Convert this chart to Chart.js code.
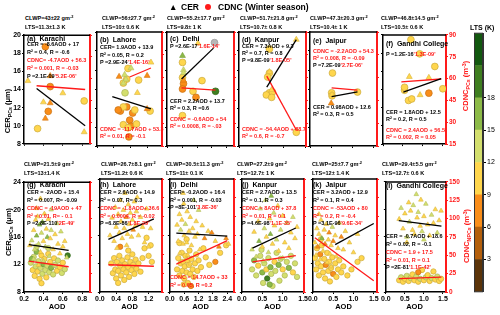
<!DOCTYPE html>
<html><head><meta charset="utf-8">
<script src="https://cdn.jsdelivr.net/npm/chart.js@4.4.1/dist/chart.umd.min.js"></script>
<style>
html,body{margin:0;padding:0;background:#fff;}
body{width:500px;height:315px;position:relative;overflow:hidden;font-family:"Liberation Sans",Arial,sans-serif;}
canvas{position:absolute;}
.t{position:absolute;white-space:nowrap;line-height:1;font-weight:bold;color:#000;}
.r{color:#ff1a1a;}
sup{font-size:70%;vertical-align:0;position:relative;top:-0.45em;}
sub{font-size:70%;vertical-align:0;position:relative;top:0.3em;}
</style></head><body>
<script>
// ---------------- DATA ----------------
const sites = ['Karachi','Lahore','Delhi','Kanpur','Jaipur','Gandhi College'];
const letters = ['a','b','c','d','e','f','g','h','i','j','k','l'];
const clwpPC  = ['43±22','56±27.7','55.2±17.7','51.7±21.8','47.3±20.3','46.8±14.5'];
const ltsPC   = ['11.3±1.3','10± 0.6','9.8± 1','10.7± 0.8','10.4± 1','10.5± 0.6'];
const clwpNPC = ['21.5±9','26.7±8.1','30.5±11.3','27.2±9','25±7.7','29.4±5.5'];
const ltsNPC  = ['13±1.4','11.2± 0.6','11± 0.1','12.7± 1','12± 1.4','12.7± 0.6'];

// AOD axis per column: range and tick labels
const aodRange = [[0.2,0.88],[0,1.53],[0,2.68],[0,1.52],[0,1.58],[0,1.58]];
const aodTicks = [[0.2,0.4,0.6,0.8],[0,0.4,0.8,1.2],[0,0.6,1.2,1.8,2.4],[0,0.5,1.0,1.5],[0,0.5,1.0,1.5],[0,0.5,1.0,1.5]];
const cerTicksPC = [8,10,12,14,16,18,20];
const cerTicksNPC = [8,12,16,20,24];
const cdncTicksPC = [15,30,45,60,75,90];
const cdncTicksNPC = [0,25,50,75,100,125,150];
const ltsBandLow  = [0,3,6,9,12,15,18,21];
const ltsBandHigh = [3,6,9,12,15,18,21,24];
const ltsTicks = [3,6,9,12,15,18];

// points: [AOD, value, LTS]
const cerPC_Karachi = [[0.24,14.95,10.5],[0.47,15.5,7.5],[0.60,13.6,10.5],[0.40,12.6,10.5],[0.47,12.5,7.5],[0.42,10.8,7.5],[0.82,9.3,10.5]];
const cdncPC_Karachi = [[0.47,54.5,7.5],[0.45,37.4,7.5],[0.34,25.5,10.5],[0.82,44.6,10.5],[0.42,82,7.5]];
const cerPC_Lahore = [[1.27,16.8,10.5],[0.52,15.3,7.5],[1.18,15.4,7.5],[0.65,15.5,13.5],[0.68,15.0,13.5],[0.62,14.6,13.5],[0.95,13.6,10.5],[1.18,11.9,7.5],[0.80,16.2,13.5]];
const cdncPC_Lahore = [[0.73,66,10.5],[0.70,59,10.5],[0.62,56.4,10.5],[0.98,58.4,10.5],[0.66,50,13.5],[0.55,38,7.5],[0.70,40.7,7.5],[0.84,36.7,7.5],[0.62,40.7,10.5],[0.89,38.7,10.5],[0.50,38.7,7.5],[0.77,32,7.5],[0.80,28,7.5],[0.62,29,10.5],[0.73,27,10.5],[0.93,29.5,10.5],[0.75,21,7.5],[1.25,38,10.5]];
const cerPC_Delhi = [[0.62,17.5,16.5],[0.66,16.0,13.5],[0.66,15.7,13.5],[0.66,14.9,7.5],[1.24,18.8,10.5]];
const cdncPC_Delhi = [[0.62,70,10.5],[0.62,60,10.5],[0.66,56,7.5],[1.40,58,10.5],[0.62,52.5,7.5],[1.04,51,10.5],[1.94,51,19.5],[1.16,47,7.5],[0.62,35,10.5],[1.90,83,27]];
const cerPC_Kanpur = [[1.30,19.2,10.5],[0.69,15.8,10.5],[0.74,13.9,10.5]];
const cdncPC_Kanpur = [[0.69,78.8,10.5],[0.69,63,10.5],[0.65,60.4,10.5],[0.69,50,10.5],[0.62,48.6,10.5],[0.76,50.5,10.5],[0.74,47,10.5],[1.30,24,10.5]];
const cerPC_Jaipur = [[0.50,12.5,7.5],[0.52,13.4,10.5]];
const cdncPC_Jaipur = [[0.53,63,10.5],[0.51,50,10.5],[0.52,48,10.5],[1.12,50.5,10.5]];
const cerPC_Gandhi = [[0.66,15.4,10.5],[1.15,15.3,10.5],[0.93,13.4,10.5]];
const cdncPC_Gandhi = [[0.70,86.7,10.5],[0.92,77,10.5],[1.30,68.3,10.5],[1.50,53,10.5],[0.54,52,10.5],[0.64,45,10.5],[0.72,46,10.5],[1.15,50,7.5],[0.54,54,10.5]];

const cerNPC_Karachi = [[0.28,15.5,13.5],[0.30,17.0,10.5],[0.31,14.2,13.5],[0.32,18.5,10.5],[0.33,16.2,16.5],[0.34,19.0,10.5],[0.35,15.0,13.5],[0.36,17.8,16.5],[0.37,21.6,10.5],[0.37,13.8,10.5],[0.38,16.6,13.5],[0.39,18.2,16.5],[0.40,15.4,10.5],[0.41,19.4,10.5],[0.42,14.6,13.5],[0.43,17.2,10.5],[0.44,16.0,16.5],[0.45,18.6,10.5],[0.46,13.2,13.5],[0.47,15.8,10.5],[0.48,17.0,13.5],[0.50,14.2,10.5],[0.52,16.4,10.5],[0.54,18.0,13.5],[0.55,15.0,10.5],[0.57,13.6,10.5],[0.58,16.8,13.5],[0.60,14.6,10.5],[0.62,15.4,10.5],[0.64,13.0,13.5],[0.30,12.8,13.5],[0.35,11.9,10.5],[0.40,12.5,13.5],[0.33,20.2,10.5],[0.48,20.0,13.5],[0.26,14.8,10.5]];
const cdncNPC_Karachi = [[0.27,40,13.5],[0.29,30,10.5],[0.30,48,13.5],[0.31,22,10.5],[0.32,35,13.5],[0.33,55,16.5],[0.34,28,10.5],[0.35,42,13.5],[0.36,18,10.5],[0.37,33,13.5],[0.38,50,10.5],[0.39,25,13.5],[0.40,38,16.5],[0.41,45,10.5],[0.42,30,13.5],[0.43,20,10.5],[0.44,36,13.5],[0.45,52,10.5],[0.46,27,13.5],[0.47,41,10.5],[0.48,33,16.5],[0.50,24,13.5],[0.51,46,10.5],[0.52,37,13.5],[0.54,29,10.5],[0.55,43,13.5],[0.57,34,10.5],[0.59,26,13.5],[0.60,40,10.5],[0.62,31,13.5],[0.65,50,19.5],[0.33,62,13.5],[0.38,12,10.5],[0.45,60,13.5],[0.28,45,16.5]];
const cerNPC_Lahore = [[0.25,16.0,10.5],[0.30,18.5,10.5],[0.35,15.2,10.5],[0.38,20.0,10.5],[0.40,17.2,10.5],[0.45,19.0,10.5],[0.48,16.4,10.5],[0.50,21.0,10.5],[0.52,18.0,10.5],[0.55,15.6,10.5],[0.58,19.6,10.5],[0.60,17.0,10.5],[0.62,22.0,10.5],[0.65,18.6,7.5],[0.68,16.2,10.5],[0.70,20.4,10.5],[0.72,17.6,10.5],[0.75,19.2,10.5],[0.78,15.8,10.5],[0.80,18.2,10.5],[0.82,16.8,7.5],[0.85,20.8,10.5],[0.88,17.4,10.5],[0.90,19.4,10.5],[0.95,16.0,10.5],[1.00,18.6,10.5],[1.05,17.2,10.5],[1.10,15.0,10.5],[1.15,19.8,10.5],[1.20,14.4,10.5],[1.25,17.0,10.5],[0.42,14.2,10.5],[0.66,14.6,10.5],[0.92,21.4,10.5]];
const cdncNPC_Lahore = [[0.28,38,10.5],[0.32,25,10.5],[0.35,45,10.5],[0.38,30,10.5],[0.40,18,10.5],[0.42,40,10.5],[0.45,28,10.5],[0.48,48,10.5],[0.50,35,10.5],[0.52,22,10.5],[0.55,42,10.5],[0.58,30,10.5],[0.60,16,10.5],[0.62,37,10.5],[0.65,26,10.5],[0.68,46,10.5],[0.70,33,10.5],[0.72,20,10.5],[0.75,40,10.5],[0.78,29,10.5],[0.80,50,10.5],[0.82,36,10.5],[0.85,24,10.5],[0.88,43,10.5],[0.90,31,10.5],[0.95,38,10.5],[1.00,27,10.5],[1.05,45,10.5],[1.10,58,10.5],[1.15,72,10.5],[1.20,48,10.5],[1.25,62,10.5],[1.28,40,10.5],[0.70,55,10.5],[0.50,60,7.5],[0.45,12,10.5]];
const cerNPC_Delhi = [[0.30,17.5,10.5],[0.35,15.2,10.5],[0.40,19.0,10.5],[0.42,13.5,10.5],[0.45,16.8,13.5],[0.50,18.2,10.5],[0.55,14.8,10.5],[0.58,20.5,10.5],[0.60,16.0,10.5],[0.65,17.6,13.5],[0.70,15.0,10.5],[0.72,19.4,10.5],[0.75,13.2,10.5],[0.80,16.6,10.5],[0.85,18.6,10.5],[0.90,14.6,10.5],[0.95,17.0,10.5],[1.00,21.0,13.5],[1.05,15.8,10.5],[1.10,18.0,10.5],[1.15,16.2,10.5],[1.25,14.0,10.5],[1.35,17.4,10.5],[1.45,15.6,7.5],[1.60,16.6,10.5],[1.75,16.4,7.5],[1.90,15.2,10.5],[2.05,14.4,7.5],[2.35,15.6,7.5],[2.45,14.8,10.5],[0.55,22.0,10.5],[0.85,12.0,10.5],[1.20,19.6,13.5]];
const cdncNPC_Delhi = [[0.30,30,10.5],[0.35,45,10.5],[0.40,22,10.5],[0.45,38,10.5],[0.50,52,10.5],[0.52,28,10.5],[0.55,40,10.5],[0.60,18,10.5],[0.62,34,10.5],[0.65,48,10.5],[0.70,26,10.5],[0.72,42,10.5],[0.75,12,10.5],[0.80,36,10.5],[0.82,55,10.5],[0.85,24,10.5],[0.88,8,7.5],[0.90,44,10.5],[0.95,30,10.5],[1.00,20,10.5],[1.05,38,10.5],[1.10,50,10.5],[1.15,28,10.5],[1.20,42,10.5],[1.30,33,10.5],[1.40,58,10.5],[1.50,46,10.5],[1.65,36,10.5],[1.90,40,7.5],[2.10,52,10.5],[2.35,62,10.5],[0.40,65,10.5],[0.70,70,10.5],[0.58,10,10.5]];
const cerNPC_Kanpur = [[0.25,14.0,13.5],[0.30,16.5,10.5],[0.35,13.0,13.5],[0.40,18.0,10.5],[0.42,15.2,16.5],[0.45,19.8,13.5],[0.50,14.4,10.5],[0.55,17.0,13.5],[0.58,21.0,13.5],[0.60,15.8,10.5],[0.65,13.6,13.5],[0.68,18.4,10.5],[0.70,16.2,16.5],[0.75,14.8,10.5],[0.78,19.2,13.5],[0.80,17.4,10.5],[0.85,15.4,13.5],[0.88,20.2,10.5],[0.90,13.8,10.5],[0.95,16.8,13.5],[1.00,18.8,10.5],[1.05,15.0,10.5],[1.10,17.8,13.5],[1.15,14.2,10.5],[1.20,16.4,10.5],[1.25,18.6,13.5],[1.30,15.6,10.5],[1.35,17.2,10.5],[0.52,12.4,13.5],[0.72,21.6,16.5],[1.00,12.8,13.5]];
const cdncNPC_Kanpur = [[0.25,30,13.5],[0.30,42,16.5],[0.35,22,13.5],[0.40,35,10.5],[0.45,48,13.5],[0.50,26,16.5],[0.52,12,13.5],[0.55,38,13.5],[0.60,30,10.5],[0.62,18,19.5],[0.65,45,13.5],[0.70,33,16.5],[0.72,24,13.5],[0.75,8,13.5],[0.80,40,10.5],[0.82,28,13.5],[0.85,52,13.5],[0.90,36,16.5],[0.92,15,13.5],[0.95,44,13.5],[1.00,30,10.5],[1.05,22,13.5],[1.10,40,13.5],[1.15,32,16.5],[1.20,48,13.5],[1.25,26,10.5],[1.30,38,13.5],[1.35,20,13.5],[0.48,56,13.5],[0.68,10,16.5]];
const cerNPC_Jaipur = [[0.05,15.0,10.5],[0.08,13.2,10.5],[0.10,17.0,10.5],[0.12,14.4,7.5],[0.15,16.2,10.5],[0.18,12.6,10.5],[0.20,18.2,10.5],[0.22,15.6,16.5],[0.25,13.8,10.5],[0.28,16.8,10.5],[0.30,14.8,7.5],[0.33,17.6,10.5],[0.35,12.2,10.5],[0.38,15.4,10.5],[0.40,16.4,7.5],[0.42,13.4,10.5],[0.45,14.6,10.5],[0.48,17.2,13.5],[0.50,15.2,7.5],[0.55,16.0,10.5],[0.58,13.0,10.5],[0.62,14.2,10.5],[0.65,17.8,10.5],[0.70,15.8,7.5],[0.75,14.0,10.5],[0.80,16.6,10.5],[0.90,15.0,10.5],[1.00,13.6,10.5],[1.10,16.2,10.5],[0.15,19.0,10.5],[0.45,11.6,10.5]];
const cdncNPC_Jaipur = [[0.05,45,10.5],[0.08,30,10.5],[0.10,58,10.5],[0.12,38,10.5],[0.15,22,10.5],[0.18,50,7.5],[0.20,34,10.5],[0.22,62,10.5],[0.25,26,10.5],[0.28,44,10.5],[0.30,18,10.5],[0.32,36,7.5],[0.35,52,10.5],[0.38,28,10.5],[0.40,40,10.5],[0.42,14,10.5],[0.45,32,10.5],[0.48,46,10.5],[0.50,24,7.5],[0.55,38,10.5],[0.58,20,10.5],[0.62,30,10.5],[0.65,42,10.5],[0.70,26,10.5],[0.75,34,10.5],[0.85,22,10.5],[0.95,30,10.5],[1.10,40,10.5],[1.20,45,10.5],[0.20,70,10.5]];
const cerNPC_Gandhi = [[0.35,18.6,10.5],[0.40,20.2,13.5],[0.45,17.2,10.5],[0.50,19.4,10.5],[0.55,16.0,13.5],[0.60,21.0,10.5],[0.62,18.2,13.5],[0.65,19.8,10.5],[0.70,17.0,10.5],[0.72,20.6,13.5],[0.75,16.4,10.5],[0.80,22.2,13.5],[0.82,18.8,10.5],[0.85,19.6,13.5],[0.90,17.6,10.5],[0.92,21.4,10.5],[0.95,16.8,13.5],[1.00,19.0,10.5],[1.05,20.8,13.5],[1.10,17.8,10.5],[1.15,16.2,10.5],[1.20,19.2,13.5],[1.25,18.0,10.5],[1.30,20.0,10.5],[1.35,16.6,13.5],[1.40,18.4,10.5],[1.45,19.8,10.5],[0.55,15.2,10.5],[1.00,15.6,13.5]];
const cdncNPC_Gandhi = [[0.35,16,10.5],[0.40,20,13.5],[0.45,14,10.5],[0.50,18,10.5],[0.55,22,13.5],[0.60,15,10.5],[0.65,19,13.5],[0.70,24,10.5],[0.75,16,10.5],[0.80,21,13.5],[0.85,14,10.5],[0.90,18,13.5],[0.95,30,10.5],[1.00,16,10.5],[1.05,20,13.5],[1.10,23,10.5],[1.15,15,10.5],[1.20,19,13.5],[1.25,28,10.5],[1.30,17,10.5],[1.35,21,13.5],[1.40,15,10.5],[1.45,18,10.5],[0.85,27,7.5]];

// fitted lines: [AOD1, value1, AOD2, value2]
const cerFitPC  = [[0.33,14.1,0.83,10.0],[0.36,13.2,1.27,11.9],[0.58,15.05,1.86,18.3],[0.63,14.2,1.30,19.2],[0.51,13.2,1.12,13.7],[0.51,13.7,1.46,15.2]];
const cdncFitPC = [[0.33,55.1,0.83,52.5],[0.77,60.4,1.27,66.3],[0.58,53.2,1.94,51.8],[0.63,61,1.30,25.5],[0.51,53.2,1.12,51.8],[0.46,57.8,1.46,59.7]];
const cerFitNPC  = [[0.25,14.9,0.66,14.08],[0.21,15.45,1.33,18.36],[0.27,16.35,2.40,15.92],[0.26,14.2,1.32,17.06],[0.55,14.7,1.50,17.7],[0.34,18.36,1.46,17.58]];
const cdncFitNPC = [[0.25,42.25,0.66,34.5],[0.21,36.2,1.33,34.2],[0.27,37.0,2.40,68.3],[0.26,39.9,1.32,48.4],[0.05,72,1.50,15],[0.34,18.1,1.46,20.3]];

const cerPC  = [cerPC_Karachi,cerPC_Lahore,cerPC_Delhi,cerPC_Kanpur,cerPC_Jaipur,cerPC_Gandhi];
const cdncPC = [cdncPC_Karachi,cdncPC_Lahore,cdncPC_Delhi,cdncPC_Kanpur,cdncPC_Jaipur,cdncPC_Gandhi];
const cerNPC  = [cerNPC_Karachi,cerNPC_Lahore,cerNPC_Delhi,cerNPC_Kanpur,cerNPC_Jaipur,cerNPC_Gandhi];
const cdncNPC = [cdncNPC_Karachi,cdncNPC_Lahore,cdncNPC_Delhi,cdncNPC_Kanpur,cdncNPC_Jaipur,cdncNPC_Gandhi];

// statistics text per panel: [y, line, colour]; P line: [y, black part, red part]
const statsText = [
 {k:[[45,'CER = -8.6AOD + 17','k'],[53,'R² = 0.4, R = -0.6','k'],[61,'CDNC= -4.7AOD + 56.3','r'],[69,'R² = 0.001, R = -0.03','r']], p:[77,'P =2.1E-09',"'5.2E-06'"]},
 {k:[[48,'CER= 1.9AOD + 13.9','k'],[56,'R² = 0.05, R = 0.2','k'],[130,'CDNC = -11.7AOD + 53.3','r'],[137,'R² = 0.01, R = -0.1','r']], p:[63,'P =2.9E-24',"'1.4E-16'"]},
 {k:[[102,'CER = 2.2AOD + 13.7','k'],[109,'R² = 0.3,  R =0.6','k'],[120,'CDNC = -0.6AOD + 54','r'],[127,'R² = 0.0008, R = -.03','r']], p:[47,'P =2.6E-17',"'1.6E-14'"]},
 {k:[[47,'CER = 7.3AOD + 9.3','k'],[54,'R² = 0.7, R = 0.8','k'],[130,'CDNC = -54.4AOD + 88.7','r'],[137,'R² = 0.6, R = -0.7','r']], p:[61,'P =9.8E-09',"'1.8E-05'"]},
 {k:[[52,'CDNC = -2.2AOD + 54.3','r'],[59,'R² = 0.008, R = -0.09','r'],[108,'CER = 0.98AOD + 12.6','k'],[115,'R² = 0.3, R = 0.5','k']], p:[66,'P =7.2E-09',"'2.7E-06'"]},
 {k:[[113,'CER = 1.8AOD + 12.5','k'],[120,'R² = 0.2, R = 0.5','k'],[131,'CDNC = 2.4AOD + 56.5','r'],[138,'R² = 0.002, R = 0.05','r']], p:[55,'P =1.2E-16',"'1.3E-09'"]},
 {k:[[193,'CER = -2AOD + 15.4','k'],[201,'R² = 0.007, R= -0.09','k'],[209,'CDNC = -19AOD + 47','r'],[217,'R² = 0.01, R= - 0.1','r']], p:[224,'P =2.8E-110',"'2E-49'"]},
 {k:[[193,'CER = 2.6AOD + 14.9','k'],[201,'R² = 0.07,  R= 0.3','k'],[209,'CDNC = -1.8AOD+ 36.6','r'],[217,'R² = 0.0004, R = -0.02','r']], p:[224,'P =6.8E-86',"'1.8E-29'"]},
 {k:[[193,'CER= -0.2AOD + 16.4','k'],[201,'R² = 0.001, R = -0.03','k'],[278,'CDNC = 14.7AOD + 33','r'],[286,'R² = 0.05, R =0.2','r']], p:[208,'P =8E-101',"'3.8E-36'"]},
 {k:[[193,'CER = 2.7AOD + 13.5','k'],[201,'R² = 0.1, R = 0.3','k'],[209,'CDNC = 8AOD + 37.8','r'],[217,'R² = 0.01, R = 0.1','r']], p:[224,'P =4.6E-98',"'1.1E-35'"]},
 {k:[[193,'CER = 3.2AOD + 12.9','k'],[201,'R² = 0.1, R = 0.4','k'],[209,'CDNC = -53AOD + 80','r'],[217,'R² = 0.2, R = -0.4','r']], p:[224,'P =3.1E-96',"'9.6E-34'"]},
 {k:[[237,'CER = -0.7AOD + 18.6','k'],[245,'R² = 0.02, R = -0.1','k'],[253,'CDNC = 1.9 + 17.5','r'],[261,'R² = 0.01, R = 0.1','r']], p:[268,'P =2E-81',"'1.1E-42'"]}
];

// ---------------- LAYOUT / STYLE ----------------
const FONT = '"Liberation Sans", Arial, sans-serif';
const LTS_COLORS = ['#5b3409','#b45f0b','#f98d19','#ffd64d','#d3df6e','#8cba48','#3e7e20','#12580f'];
const COLS = [{l:24,w:66},{l:97,w:65},{l:167,w:67},{l:239,w:67},{l:310,w:67},{l:383,w:63}];
const ROWS = [{t:32,h:114},{t:179,h:113}];
const RED = '#ff1a1a';

function ltsColor(v){
  for(let i=0;i<ltsBandLow.length;i++) if(v>=ltsBandLow[i] && v<ltsBandHigh[i]) return LTS_COLORS[i];
  return '#b8b8b8';
}
function darken(hex, f){
  const n=parseInt(hex.slice(1),16);
  const r=Math.round(((n>>16)&255)*f), g=Math.round(((n>>8)&255)*f), b=Math.round((n&255)*f);
  return 'rgb('+r+','+g+','+b+')';
}
function addText(x, y, html, size, cls, extra){
  const d=document.createElement('div');
  d.className='t'+(cls?' '+cls:'');
  d.style.left=x+'px'; d.style.top=(y-size/2)+'px'; d.style.fontSize=size+'px';
  if(extra) Object.assign(d.style, extra);
  d.innerHTML=html; document.body.appendChild(d); return d;
}
function addRot(cx, cy, html, size, color){
  const d=document.createElement('div');
  d.className='t'; d.style.fontSize=size+'px'; d.style.color=color;
  d.style.left=cx+'px'; d.style.top=cy+'px';
  d.style.transform='translate(-50%,-50%) rotate(-90deg)';
  d.innerHTML=html; document.body.appendChild(d);
}

const framePlugin = {id:'frame', afterDraw(chart){
  const {ctx, chartArea:a} = chart; ctx.save(); ctx.strokeStyle='#000'; ctx.lineWidth=1.5;
  ctx.beginPath(); ctx.moveTo(a.left-0.75,a.top); ctx.lineTo(a.right,a.top); ctx.stroke(); ctx.restore();
}};

function pts(arr){ return arr.map(p=>({x:p[0], y:p[1]})); }

function makePanel(row, col){
  const idx=row*6+col;
  const C=COLS[col], R=ROWS[row];
  const padL = col===0 ? 22 : 3, padR = col===5 ? 22 : 3, padT = 2, padB = row===1 ? 13 : 3;
  const cv=document.createElement('canvas');
  const W=C.w+padL+padR, H=R.h+padT+padB;
  cv.width=W; cv.height=H; cv.style.left=(C.l-padL)+'px'; cv.style.top=(R.t-padT)+'px';
  cv.style.width=W+'px'; cv.style.height=H+'px';
  document.body.appendChild(cv);
  const cer = row===0 ? cerPC[col] : cerNPC[col];
  const cdnc = row===0 ? cdncPC[col] : cdncNPC[col];
  const cf = row===0 ? cerFitPC[col] : cerFitNPC[col];
  const df = row===0 ? cdncFitPC[col] : cdncFitNPC[col];
  const rad = row===0 ? 3.4 : 2.7;
  const yT = row===0 ? cerTicksPC : cerTicksNPC;
  const y2T = row===0 ? cdncTicksPC : cdncTicksNPC;
  const tickFont={family:FONT,size:7,weight:'bold'};
  new Chart(cv,{
    type:'scatter',
    data:{datasets:[
      {data:[{x:cf[0],y:cf[1]},{x:cf[2],y:cf[3]}], yAxisID:'y', showLine:true, borderColor:'#000', borderWidth:1.3, pointRadius:0, fill:false},
      {data:[{x:df[0],y:df[1]},{x:df[2],y:df[3]}], yAxisID:'y2', showLine:true, borderColor:RED, borderWidth:1.3, pointRadius:0, fill:false},
      {data:pts(cer), yAxisID:'y', pointStyle:'triangle', pointRadius:rad, pointBackgroundColor:cer.map(p=>ltsColor(p[2])), pointBorderColor:cer.map(p=>darken(ltsColor(p[2]),0.85)), pointBorderWidth:0.6},
      {data:pts(cdnc), yAxisID:'y2', pointStyle:'circle', pointRadius:rad, pointBackgroundColor:cdnc.map(p=>ltsColor(p[2])), pointBorderColor:cdnc.map(p=>darken(ltsColor(p[2]),0.8)), pointBorderWidth:0.7}
    ]},
    options:{
      responsive:false, animation:false, events:[],
      layout:{padding:{top:padT,left:0,right:0,bottom:0}, autoPadding:false},
      plugins:{legend:{display:false}, tooltip:{enabled:false}},
      scales:{
        x:{type:'linear', position:'bottom', min:aodRange[col][0], max:aodRange[col][1],
           afterBuildTicks:s=>{s.ticks=aodTicks[col].map(v=>({value:v}));},
           afterFit:s=>{s.height=padB;},
           grid:{drawOnChartArea:false, drawTicks:true, tickLength:2, color:'#000'},
           border:{color:'#000', width:1.5},
           ticks:{display:row===1, font:tickFont, color:'#000', padding:1, maxRotation:0, autoSkip:false, callback:v=>Number(v).toFixed(1)}},
        y:{type:'linear', position:'left', min:yT[0], max:yT[yT.length-1],
           afterBuildTicks:s=>{s.ticks=yT.map(v=>({value:v}));},
           afterFit:s=>{s.width=padL;},
           grid:{drawOnChartArea:false, drawTicks:true, tickLength:2, color:'#000'},
           border:{color:'#000', width:1.5},
           ticks:{display:col===0, font:tickFont, color:'#000', padding:1}},
        y2:{type:'linear', position:'right', min:y2T[0], max:y2T[y2T.length-1],
           afterBuildTicks:s=>{s.ticks=y2T.map(v=>({value:v}));},
           afterFit:s=>{s.width=padR;},
           grid:{drawOnChartArea:false, drawTicks:true, tickLength:2, color:RED},
           border:{color:RED, width:2},
           ticks:{display:col===5, font:{family:FONT,size:6.5,weight:'bold'}, color:RED, padding:1}}
      }
    },
    plugins:[framePlugin]
  });

  // panel header texts
  const hx = row===0 ? [25,102,167,240,310,381][col] : [24,101,166,237,312,382][col];
  const hy = row===0 ? [19,28] : [165,174];
  const clwp = row===0 ? clwpPC[col] : clwpNPC[col];
  const lts = row===0 ? ltsPC[col] : ltsNPC[col];
  addText(hx, hy[0], 'CLWP='+clwp+' gm<sup>-2</sup>', 5.6, '');
  addText(hx, hy[1], 'LTS='+lts+' K', 5.6, '');
  const ty = row===0 ? [38,39,38,39,40,43][col] : [184,184,184,184,184,185][col];
  addText(C.l+3, ty, '('+letters[idx]+')&nbsp; '+sites[col], 7, '');
  const st=statsText[idx];
  st.k.forEach(e=>addText(C.l+3, e[0], e[1], 5.5, e[2]==='r'?'r':''));
  addText(C.l+3, st.p[0], st.p[1]+'<span class="r">'+st.p[2]+'</span>', 5.5, '');
  if(row===1) addText(C.l+C.w/2, 307, 'AOD', 7.5, '', {transform:'translateX(-50%)'});
}

for(let r=0;r<2;r++) for(let c=0;c<6;c++) makePanel(r,c);

// axis titles
addRot(8, 111, 'CER<sub>PCs</sub> (μm)', 7.5, '#000');
addRot(9, 232, 'CER<sub>NPCs</sub> (μm)', 7.5, '#000');
addRot(466, 86, 'CDNC<sub>PCs</sub> (m<sup>-3</sup>)', 7.5, RED);
addRot(467, 236, 'CDNC<sub>NPCs</sub> (m<sup>-3</sup>)', 7.5, RED);

// legend
addText(169, 7, '▲', 8.5, '');
addText(181, 7, 'CER', 8.5, '');
const dot=document.createElement('div');
Object.assign(dot.style,{position:'absolute',left:'205px',top:'4px',width:'6px',height:'6px',borderRadius:'50%',background:RED});
document.body.appendChild(dot);
addText(218, 7, 'CDNC (Winter season)', 8.5, '');

// colour bar
addText(470, 27, 'LTS (K)', 7, '');
const cb=document.createElement('canvas');
cb.width=26; cb.height=269; cb.style.left='474px'; cb.style.top='28px'; cb.style.width='26px'; cb.style.height='269px';
document.body.appendChild(cb);
const cbFrame={id:'cbframe', afterDraw(chart){const {ctx,chartArea:a}=chart; ctx.save(); ctx.strokeStyle='#333'; ctx.lineWidth=1; ctx.strokeRect(a.left+0.5,a.top,a.right-a.left-1,a.bottom-a.top); ctx.restore();}};
new Chart(cb,{
  type:'bar',
  data:{labels:['LTS'], datasets: ltsBandLow.map((lo,i)=>({data:[[lo, ltsBandHigh[i]]], backgroundColor:LTS_COLORS[i], grouped:false, barPercentage:1, categoryPercentage:1, borderWidth:0}))},
  options:{responsive:false, animation:false, events:[],
    layout:{padding:{top:4,bottom:4,left:0,right:0}, autoPadding:false},
    plugins:{legend:{display:false}, tooltip:{enabled:false}},
    scales:{x:{display:false},
      y:{position:'right', min:0, max:24,
        afterBuildTicks:s=>{s.ticks=ltsTicks.map(v=>({value:v}));},
        afterFit:s=>{s.width=17;},
        grid:{drawOnChartArea:false, tickLength:3, color:'#000'},
        border:{color:'#333', width:1},
        ticks:{font:{family:FONT,size:7}, color:'#000', padding:1}}}},
  plugins:[cbFrame]
});
</script>
</body></html>
